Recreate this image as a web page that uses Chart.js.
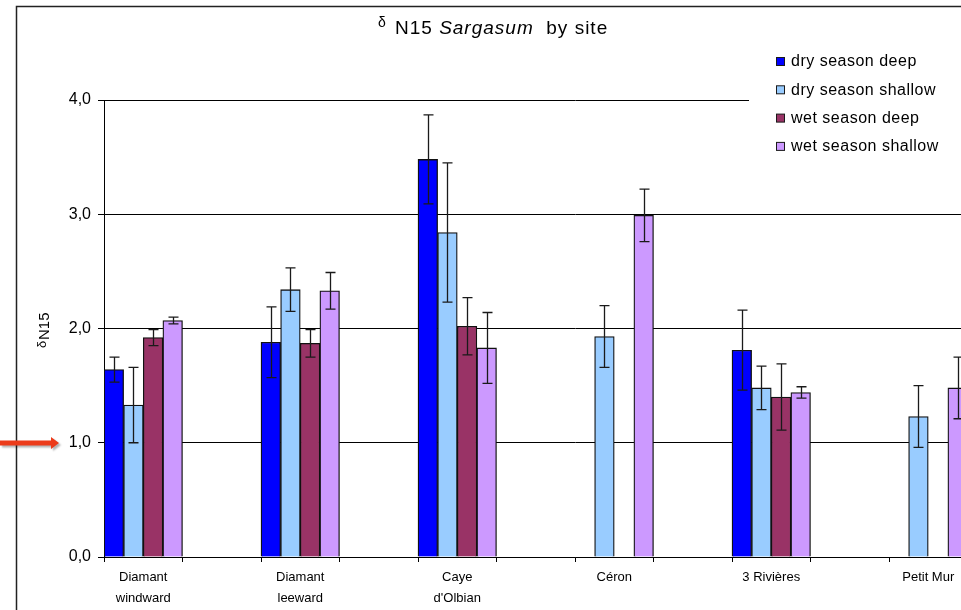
<!DOCTYPE html>
<html>
<head>
<meta charset="utf-8">
<script src="https://cdn.jsdelivr.net/npm/chart.js@4.4.0/dist/chart.umd.min.js"></script>
<style>
  html, body { margin: 0; padding: 0; background: #fff; overflow: hidden; }
</style>
</head>
<body>
<canvas id="chart" width="1100" height="610"></canvas>
<script>
// sites, with an empty slot after each one (as in the original sheet)
const sites = [["Diamant", "windward"], "", ["Diamant", "leeward"], "", ["Caye", "d'Olbian"], "", "Céron", "", "3 Rivières", "", "Petit Mur", ""];

const seriesNames = ["dry season deep", "dry season shallow", "wet season deep", "wet season shallow"];
const seriesColors = ["#0000ff", "#99ccff", "#993366", "#cc99ff"];

const dryDeep       = [1.64, null, 1.88, null, 3.48, null, null, null, 1.81, null, null, null];
const dryDeepErr    = [0.11, null, 0.31, null, 0.39, null, null, null, 0.35, null, null, null];
const dryShallow    = [1.33, null, 2.34, null, 2.84, null, 1.93, null, 1.48, null, 1.23, null];
const dryShallowErr = [0.33, null, 0.19, null, 0.61, null, 0.27, null, 0.19, null, 0.27, null];
const wetDeep       = [1.92, null, 1.87, null, 2.02, null, null, null, 1.40, null, null, null];
const wetDeepErr    = [0.07, null, 0.12, null, 0.25, null, null, null, 0.29, null, null, null];
const wetShallow    = [2.07, null, 2.33, null, 1.83, null, 2.99, null, 1.44, null, 1.48, null];
const wetShallowErr = [0.03, null, 0.16, null, 0.31, null, 0.23, null, 0.05, null, 0.27, null];

const yTicks = [0, 1, 2, 3, 4];

const FONT = "'Liberation Sans', Arial, sans-serif";
const values = [dryDeep, dryShallow, wetDeep, wetShallow];
const errors = [dryDeepErr, dryShallowErr, wetDeepErr, wetShallowErr];

const datasets = seriesNames.map((name, i) => ({
    label: name,
    data: values[i],
    errors: errors[i],
    backgroundColor: seriesColors[i],
    borderColor: "#111",
    borderWidth: 1.3,
    barPercentage: 1,
    categoryPercentage: 1
}));

// frame, title, legend, error bars, arrow
const extras = {
    id: "extras",
    beforeDraw(chart) {
        const ctx = chart.ctx;
        ctx.save();
        ctx.fillStyle = "#fff";
        ctx.fillRect(0, 0, chart.width, chart.height);
        ctx.strokeStyle = "#222";
        ctx.lineWidth = 1.5;
        ctx.strokeRect(16.5, 6.5, chart.width + 40, chart.height + 40);
        ctx.restore();
    },
    afterDatasetsDraw(chart) {
        const ctx = chart.ctx;
        const y = chart.scales.y;
        ctx.save();
        ctx.strokeStyle = "#1a1a1a";
        ctx.lineWidth = 1.3;
        chart.data.datasets.forEach((ds, i) => {
            const meta = chart.getDatasetMeta(i);
            meta.data.forEach((bar, j) => {
                const v = ds.data[j], e = ds.errors[j];
                if (v == null || e == null) return;
                const x = Math.round(bar.x) + 0.5;
                const top = y.getPixelForValue(v + e);
                const bot = y.getPixelForValue(v - e);
                ctx.beginPath();
                ctx.moveTo(x, top); ctx.lineTo(x, bot);
                ctx.moveTo(x - 5, top); ctx.lineTo(x + 5, top);
                ctx.moveTo(x - 5, bot); ctx.lineTo(x + 5, bot);
                ctx.stroke();
            });
        });

        // legend box on top of the grid
        ctx.fillStyle = "#fff";
        ctx.fillRect(749, 45, 400, 118);
        ctx.font = "16px " + FONT;
        ctx.letterSpacing = "0.5px";
        ctx.textBaseline = "middle";
        chart.data.datasets.forEach((ds, i) => {
            const cy = 62 + i * 28.3;
            ctx.fillStyle = ds.backgroundColor;
            ctx.fillRect(776.5, cy - 4.5, 8, 8);
            ctx.strokeStyle = "#1a1a1a";
            ctx.lineWidth = 1;
            ctx.strokeRect(776.5, cy - 4.5, 8, 8);
            ctx.fillStyle = "#000";
            ctx.fillText(ds.label, 791, cy);
        });
        ctx.restore();
    },
    afterDraw(chart) {
        const ctx = chart.ctx;
        ctx.save();
        ctx.fillStyle = "#000";
        ctx.textBaseline = "alphabetic";
        ctx.letterSpacing = "1px";

        // title
        let x = 378;
        ctx.font = "14px " + FONT;
        ctx.fillText("δ", x, 27);
        x = 395;
        ctx.font = "19px " + FONT;
        ctx.fillText("N15 ", x, 34);
        x += ctx.measureText("N15 ").width;
        ctx.font = "italic 19px " + FONT;
        ctx.fillText("Sargasum", x, 34);
        x += ctx.measureText("Sargasum").width;
        ctx.font = "19px " + FONT;
        ctx.fillText("  by site", x, 34);

        // y axis title
        ctx.letterSpacing = "0px";
        ctx.translate(49, 348);
        ctx.rotate(-Math.PI / 2);
        ctx.font = "13px " + FONT;
        ctx.fillText("δ", 0, -3);
        ctx.font = "15px " + FONT;
        ctx.fillText("N15", 8, 0);
        ctx.setTransform(1, 0, 0, 1, 0, 0);

        // red pointer
        ctx.shadowColor = "rgba(0,0,0,0.3)";
        ctx.shadowOffsetX = 2;
        ctx.shadowOffsetY = 2;
        ctx.shadowBlur = 2;
        ctx.fillStyle = "#ec3b1a";
        ctx.beginPath();
        ctx.moveTo(0, 440.5);
        ctx.lineTo(51, 440.5);
        ctx.lineTo(51, 437);
        ctx.lineTo(59, 443);
        ctx.lineTo(51, 449);
        ctx.lineTo(51, 445.5);
        ctx.lineTo(0, 445.5);
        ctx.closePath();
        ctx.fill();
        ctx.restore();
    }
};

new Chart(document.getElementById("chart").getContext("2d"), {
    type: "bar",
    data: { labels: sites, datasets: datasets },
    options: {
        responsive: false,
        animation: false,
        devicePixelRatio: 1,
        layout: { padding: { left: 0, top: 100, right: 54, bottom: 0 } },
        plugins: {
            legend: { display: false },
            title: { display: false },
            tooltip: { enabled: false }
        },
        scales: {
            x: {
                grid: { offset: true, drawOnChartArea: false, drawTicks: true, tickLength: 5, color: "#000", lineWidth: 1 },
                border: { color: "#000", width: 1 },
                ticks: {
                    color: "#000", padding: 5, maxRotation: 0, autoSkip: false,
                    font: { family: FONT, size: 13, lineHeight: 1.6 }
                },
                afterFit: s => { s.height = 53; }
            },
            y: {
                min: 0,
                max: 4,
                afterBuildTicks: s => { s.ticks = yTicks.map(v => ({ value: v })); },
                grid: { color: "#000", lineWidth: 1, tickLength: 6, drawTicks: true },
                border: { color: "#000", width: 1 },
                ticks: {
                    color: "#000", padding: 7,
                    font: { family: FONT, size: 16 },
                    callback: v => v.toFixed(1).replace(".", ",")
                },
                afterFit: s => { s.width = 104; }
            }
        }
    },
    plugins: [extras]
});
</script>
</body>
</html>
